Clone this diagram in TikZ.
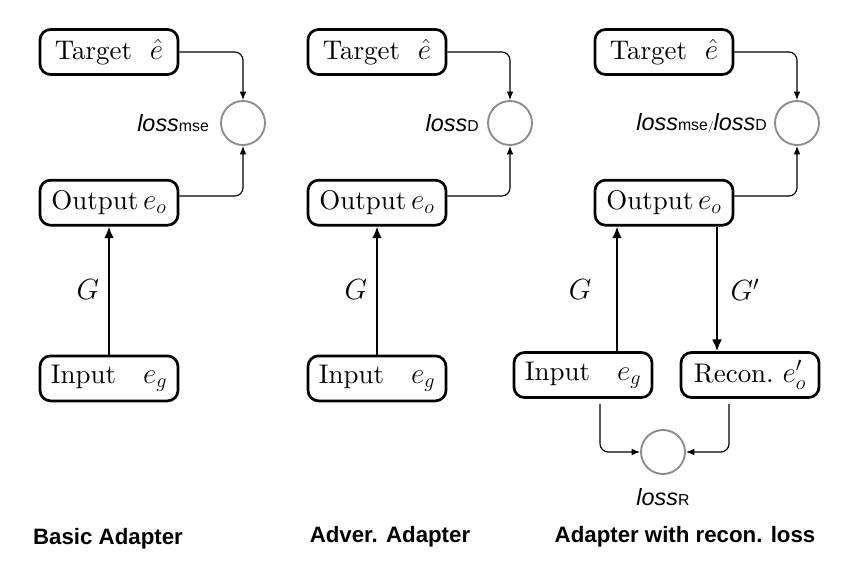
\documentclass[tikz,border=0pt]{standalone}
\usepackage{amsmath}
\usepackage{fontspec}
\usepackage{tikz}
\usetikzlibrary{arrows.meta,positioning}
\newfontfamily\labelsans{Liberation Sans}
\newfontfamily\boxserif{lmroman10-regular.otf}
\definecolor{ringgray}{RGB}{140,140,140}
\newcommand{\lossterm}[1]{{\labelsans\fontsize{20}{24}\selectfont\itshape loss}{\labelsans\fontsize{13.5}{16}\selectfont #1}}
\tikzset{
  embbox/.style={draw=black, rounded corners=9pt, line width=2.3pt, fill=white,
                 minimum width=4.14cm, minimum height=1.35cm, inner sep=2pt,
                 font=\boxserif\fontsize{23}{27}\selectfont},
  lossring/.style={circle, draw=ringgray, line width=1.6pt, minimum size=1.32cm,
                   inner sep=0pt},
  garrow/.style={-{Latex[length=3.5mm,width=3mm]}, line width=2pt},
  larrow/.style={-{Latex[length=2.5mm,width=2mm]}, line width=1pt, rounded corners=7pt},
  glabel/.style={font=\fontsize{23}{27}\selectfont},
  losslabel/.style={inner sep=0pt},
  paneltitle/.style={font=\labelsans\bfseries\fontsize{19}{22}\selectfont}
}

\begin{document}
\begin{tikzpicture}[x=0.03cm, y=-0.03cm]
  \useasboundingbox (0,0) rectangle (842,567);
  % basic adapter
  \node[embbox] (t1) at (109,52) {Target~~$\hat{e}$};
  \node[embbox, below=3.09cm of t1] (o1) {Output$\,e_o$};
  \node[embbox, below=3.84cm of o1] (i1) {Input\quad$e_g$};
  \node[lossring] (l1) at (243,123) {};
  \node[losslabel, left=0.33cm of l1] (n1) {\lossterm{mse}};
  \node[glabel] (g1) at (88,290) {$G$};
  \draw[garrow] (i1) -- (o1);
  \draw[larrow] (t1.east) -| (l1.north);
  \draw[larrow] ([yshift=0.2cm]o1.east) -| (l1.south);
  % adversarial adapter
  \node[embbox] (t2) at (377,52) {Target~~$\hat{e}$};
  \node[embbox, below=3.09cm of t2] (o2) {Output$\,e_o$};
  \node[embbox, below=3.84cm of o2] (i2) {Input\quad$e_g$};
  \node[lossring] (l2) at (510,123) {};
  \node[losslabel, left=0.24cm of l2] (n2) {\lossterm{D}};
  \node[glabel] (g2) at (356,290) {$G$};
  \draw[garrow] (i2) -- (o2);
  \draw[larrow] (t2.east) -| (l2.north);
  \draw[larrow] ([yshift=0.2cm]o2.east) -| (l2.south);
  % adapter with reconstruction loss
  \node[embbox] (t3) at (664,52) {Target~~$\hat{e}$};
  \node[embbox, below=3.09cm of t3] (o3) {Output$\,e_o$};
  \node[embbox] (i3) at (583,375) {Input\quad$e_g$};
  \node[embbox] (r3) at (750,375) {Recon.~$e'_o$};
  \node[lossring] (l3) at (797,123) {};
  \node[losslabel, left=0.21cm of l3] (n3) {\lossterm{mse}/\lossterm{D}};
  \node[lossring] (lr) at (663,452) {};
  \node[losslabel] (nr) at (663,497) {\lossterm{R}};
  \node[glabel] (g3) at (580,290) {$G$};
  \node[glabel] (g4) at (745,290) {$G'$};
  \draw[garrow] ([xshift=1.02cm]i3.north) -- ([xshift=1.02cm]i3.north |- o3.south);
  \draw[garrow] ([xshift=1.59cm]o3.south) -- ([xshift=1.59cm]o3.south |- r3.north);
  \draw[larrow] (t3.east) -| (l3.north);
  \draw[larrow] ([yshift=0.2cm]o3.east) -| (l3.south);
  \draw[larrow, shorten <=1.5mm] ([xshift=0.51cm]i3.south) |- (lr.west);
  \draw[larrow, shorten <=1.5mm] ([xshift=-0.63cm]r3.south) |- (lr.east);
  % titles
  \node[paneltitle] (s1) at (108,539) {Basic Adapter};
  \node[paneltitle] (s2) at (390,537) {Adver. Adapter};
  \node[paneltitle] (s3) at (685,537) {Adapter with recon. loss};
\end{tikzpicture}
\end{document}
